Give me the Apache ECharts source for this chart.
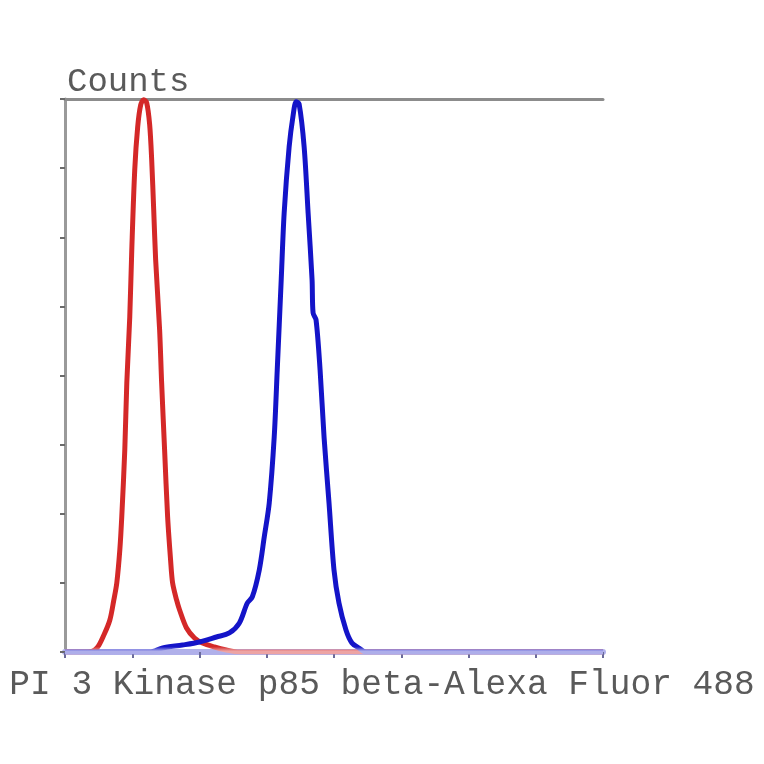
<!DOCTYPE html>
<html>
<head>
<meta charset="utf-8">
<script src="https://cdn.jsdelivr.net/npm/echarts@6/dist/echarts.min.js"></script>
<style>
html,body{margin:0;padding:0;background:#fff;}
#chart{width:764px;height:764px;}
</style>
</head>
<body>
<div id="chart"></div>
<script>
// Fluorescence intensity (axis units 0..8) and relative counts (0..8)
const redX = [0, 0.341, 0.474, 0.578, 0.667, 0.726, 0.770, 0.815, 0.844, 0.889, 0.919, 0.963, 0.993, 1.037, 1.081, 1.126, 1.170, 1.215, 1.259, 1.289, 1.319, 1.348, 1.407, 1.437, 1.481, 1.526, 1.570, 1.600, 1.659, 1.704, 1.807, 1.926, 2.044, 2.222, 2.400, 2.593, 8];
const redY = [0, 0, 0.058, 0.246, 0.463, 0.753, 0.999, 1.476, 1.954, 2.923, 3.893, 4.848, 5.818, 6.975, 7.598, 7.916, 7.99, 7.945, 7.627, 7.120, 6.397, 5.673, 4.660, 3.893, 2.923, 1.954, 1.331, 0.999, 0.753, 0.608, 0.347, 0.203, 0.130, 0.072, 0.029, 0, 0];

const blueX = [0, 1.259, 1.452, 1.748, 2.000, 2.252, 2.444, 2.593, 2.711, 2.785, 2.889, 2.963, 3.037, 3.111, 3.156, 3.215, 3.259, 3.333, 3.393, 3.437, 3.481, 3.556, 3.615, 3.674, 3.689, 3.733, 3.793, 3.852, 3.926, 4.000, 4.074, 4.178, 4.267, 4.370, 4.474, 8];
const blueY = [0, 0, 0.058, 0.101, 0.145, 0.217, 0.275, 0.420, 0.709, 0.796, 1.187, 1.664, 2.156, 3.111, 4.081, 5.383, 6.353, 7.308, 7.771, 7.959, 7.930, 7.308, 6.353, 5.383, 4.906, 4.805, 4.081, 3.111, 2.156, 1.187, 0.709, 0.318, 0.130, 0.058, 0, 0];

const xTicks = [0, 1, 2, 3, 4, 5, 6, 7, 8];
const yTicks = [0, 1, 2, 3, 4, 5, 6, 7, 8];

const xTitle = 'PI 3 Kinase p85 beta-Alexa Fluor 488';
const yTitle = 'Counts';

function pairs(xs, ys) { return xs.map((x, i) => [x, ys[i]]); }

// Vertical gradient over the line's own bounding box: baseline part is paler (as in the blurred original)
function fade(dark, light) {
  return {type: 'linear', x: 0, y: 0, x2: 0, y2: 1, colorStops: [
    {offset: 0, color: dark}, {offset: 0.986, color: dark},
    {offset: 0.994, color: light}, {offset: 1, color: light}
  ]};
}

const chart = echarts.init(document.getElementById('chart'), null, {renderer: 'canvas'});
const font = '"Liberation Mono", "DejaVu Sans Mono", monospace';
chart.setOption({
  backgroundColor: '#fff',
  animation: false,
  title: [
    {text: yTitle, left: 62, top: 60, textStyle: {fontFamily: font, fontSize: 34, fontWeight: 'normal', color: '#5a5a5a'}},
    {text: xTitle, left: 'center', top: 662, textStyle: {fontFamily: font, fontSize: 34.5, fontWeight: 'normal', color: '#5a5a5a'}}
  ],
  grid: {left: 65, right: 161, top: 99, bottom: 112},
  xAxis: [
    {
      type: 'value', min: xTicks[0], max: xTicks[xTicks.length - 1], interval: 1,
      axisLine: {show: true, lineStyle: {color: '#b0b0ea', width: 6}},
      axisTick: {show: true, length: 6, lineStyle: {color: '#6a6a9a', width: 2}},
      axisLabel: {show: false},
      splitLine: {show: false}
    },
    {
      type: 'value', position: 'top', min: xTicks[0], max: xTicks[xTicks.length - 1], interval: 1,
      axisLine: {show: true, onZero: false, lineStyle: {color: '#8c8c8c', width: 3}},
      axisTick: {show: false}, axisLabel: {show: false}, splitLine: {show: false}
    }
  ],
  yAxis: {
    type: 'value', min: yTicks[0], max: yTicks[yTicks.length - 1], interval: 1,
    axisLine: {show: true, lineStyle: {color: '#9a9a9a', width: 3}},
    axisTick: {show: true, length: 5, lineStyle: {color: '#6a6a6a', width: 2}},
    axisLabel: {show: false},
    splitLine: {show: false}
  },
  series: [
    {type: 'line', name: 'control', data: pairs(redX, redY), showSymbol: false, smooth: 0.3,
     lineStyle: {width: 5, color: fade('#d42828', '#eda4a4')}, z: 3},
    {type: 'line', name: 'sample', data: pairs(blueX, blueY), showSymbol: false, smooth: 0.3,
     lineStyle: {width: 5, color: fade('#1414c8', '#aeaeea')}, z: 4}
  ]
});
</script>
</body>
</html>
